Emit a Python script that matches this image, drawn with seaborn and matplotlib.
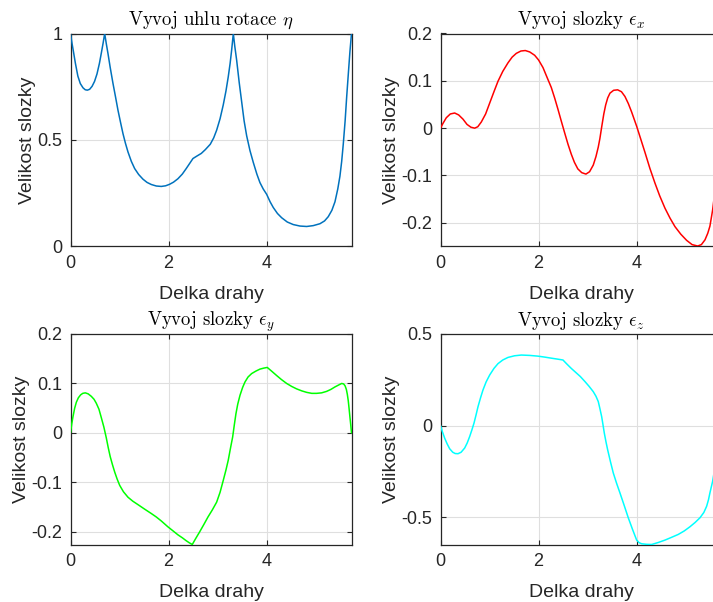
import numpy as np
import pandas as pd
import matplotlib
matplotlib.use("Agg")
import matplotlib.pyplot as plt
import seaborn as sns

# Path length samples and component values for each quantity
eta_s = [0, 0.03, 0.06, 0.10, 0.15, 0.20, 0.255, 0.30, 0.343, 0.39, 0.44, 0.49, 0.54, 0.59, 0.63,
         0.665, 0.697, 0.73, 0.765, 0.81, 0.866, 0.92, 0.968, 1.02, 1.07, 1.12, 1.172, 1.24,
         1.308, 1.39, 1.478, 1.56, 1.648, 1.75, 1.851, 1.94, 2.02, 2.10, 2.19, 2.28, 2.36, 2.43,
         2.497, 2.58, 2.667, 2.75, 2.85, 2.92, 2.98, 3.05, 3.115, 3.17, 3.217, 3.255, 3.286,
         3.32, 3.35, 3.388, 3.44, 3.49, 3.54, 3.592, 3.66, 3.727, 3.80, 3.863, 3.93, 4.0, 4.07,
         4.135, 4.22, 4.306, 4.42, 4.542, 4.68, 4.816, 4.95, 5.087, 5.18, 5.256, 5.33, 5.393,
         5.45, 5.494, 5.53, 5.562, 5.60, 5.631, 5.665, 5.698, 5.73]
eta = [1.0, 0.955, 0.915, 0.86, 0.80, 0.765, 0.745, 0.736, 0.734, 0.738, 0.752, 0.775, 0.81,
       0.86, 0.91, 0.955, 1.0, 0.952, 0.905, 0.84, 0.766, 0.70, 0.64, 0.583, 0.53, 0.485, 0.444,
       0.40, 0.366, 0.338, 0.316, 0.301, 0.291, 0.284, 0.282, 0.285, 0.292, 0.302, 0.318, 0.340,
       0.366, 0.39, 0.413, 0.425, 0.437, 0.455, 0.48, 0.51, 0.546, 0.60, 0.665, 0.73, 0.797,
       0.86, 0.922, 1.0, 0.94, 0.875, 0.77, 0.68, 0.59, 0.52, 0.45, 0.395, 0.34, 0.30, 0.27,
       0.245, 0.21, 0.183, 0.155, 0.135, 0.115, 0.103, 0.096, 0.094, 0.098, 0.107, 0.12, 0.14,
       0.17, 0.21, 0.27, 0.33, 0.40, 0.48, 0.59, 0.70, 0.81, 0.915, 1.0]

ex_s = [0, 0.05, 0.118, 0.2, 0.289, 0.37, 0.459, 0.54, 0.62, 0.697, 0.76, 0.832, 0.92, 1.003,
        1.09, 1.172, 1.27, 1.376, 1.46, 1.545, 1.64, 1.729, 1.82, 1.92, 2.0, 2.09, 2.17, 2.259,
        2.33, 2.395, 2.46, 2.532, 2.60, 2.667, 2.73, 2.80, 2.88, 2.966, 3.04, 3.115, 3.17,
        3.217, 3.25, 3.286, 3.33, 3.368, 3.41, 3.456, 3.53, 3.612, 3.69, 3.761, 3.83, 3.898,
        4.0, 4.08, 4.169, 4.27, 4.373, 4.47, 4.577, 4.68, 4.781, 4.90, 5.019, 5.13, 5.244,
        5.32, 5.393, 5.45, 5.494, 5.549, 5.60, 5.66, 5.73]
ex = [0, 0.010, 0.022, 0.030, 0.032, 0.028, 0.019, 0.008, 0.002, 0.0, 0.003, 0.013, 0.030,
      0.053, 0.077, 0.099, 0.120, 0.138, 0.150, 0.158, 0.163, 0.164, 0.161, 0.154, 0.144, 0.128,
      0.108, 0.086, 0.063, 0.040, 0.016, -0.010, -0.034, -0.055, -0.072, -0.086, -0.094, -0.097,
      -0.092, -0.078, -0.060, -0.040, -0.022, 0.002, 0.030, 0.049, 0.064, 0.074, 0.080, 0.081,
      0.077, 0.067, 0.052, 0.034, 0.004, -0.022, -0.051, -0.085, -0.116, -0.143, -0.169, -0.190,
      -0.208, -0.224, -0.237, -0.246, -0.249, -0.246, -0.236, -0.222, -0.207, -0.173, -0.13,
      -0.07, 0.0]

ey_s = [0, 0.025, 0.051, 0.085, 0.119, 0.16, 0.207, 0.25, 0.302, 0.36, 0.424, 0.48, 0.526, 0.58,
        0.628, 0.68, 0.73, 0.77, 0.81, 0.855, 0.901, 0.95, 1.003, 1.08, 1.172, 1.27, 1.376, 1.51,
        1.648, 1.75, 1.851, 1.988, 2.09, 2.19, 2.28, 2.36, 2.42, 2.483, 2.55, 2.634, 2.72, 2.803,
        2.89, 2.98, 3.05, 3.115, 3.17, 3.217, 3.26, 3.307, 3.34, 3.374, 3.41, 3.456, 3.51, 3.558,
        3.62, 3.694, 3.78, 3.863, 3.94, 4.012, 4.10, 4.204, 4.30, 4.408, 4.51, 4.612, 4.716,
        4.816, 4.92, 5.019, 5.12, 5.223, 5.31, 5.393, 5.47, 5.53, 5.57, 5.60, 5.625, 5.645,
        5.664, 5.68, 5.698, 5.715, 5.73]
ey = [0, 0.018, 0.033, 0.050, 0.062, 0.071, 0.077, 0.080, 0.081, 0.079, 0.074, 0.068, 0.060,
      0.048, 0.031, 0.012, -0.010, -0.030, -0.048, -0.064, -0.079, -0.093, -0.106, -0.119, -0.130,
      -0.138, -0.145, -0.154, -0.163, -0.170, -0.178, -0.190, -0.198, -0.206, -0.212, -0.218,
      -0.222, -0.2256, -0.214, -0.200, -0.185, -0.170, -0.156, -0.140, -0.120, -0.096, -0.075,
      -0.055, -0.032, -0.008, 0.016, 0.039, 0.058, 0.076, 0.092, 0.103, 0.113, 0.120, 0.125,
      0.129, 0.131, 0.1324, 0.125, 0.116, 0.108, 0.100, 0.094, 0.089, 0.085, 0.082, 0.080,
      0.080, 0.081, 0.084, 0.088, 0.093, 0.097, 0.100, 0.099, 0.095, 0.088, 0.078, 0.065, 0.050,
      0.032, 0.016, 0]

ez_s = [0, 0.04, 0.085, 0.135, 0.187, 0.25, 0.30, 0.357, 0.42, 0.493, 0.545, 0.595, 0.64, 0.683,
        0.725, 0.765, 0.815, 0.866, 0.93, 1.003, 1.09, 1.172, 1.27, 1.376, 1.51, 1.648, 1.82,
        1.988, 2.12, 2.259, 2.38, 2.497, 2.58, 2.667, 2.742, 2.85, 2.946, 3.03, 3.115, 3.17,
        3.217, 3.25, 3.286, 3.31, 3.34, 3.375, 3.408, 3.465, 3.523, 3.59, 3.659, 3.74, 3.829,
        3.915, 4.0, 4.05, 4.102, 4.2, 4.306, 4.44, 4.577, 4.71, 4.848, 4.97, 5.087, 5.19, 5.291,
        5.37, 5.427, 5.465, 5.494, 5.549, 5.62, 5.68, 5.73]
ez = [0, -0.035, -0.069, -0.100, -0.127, -0.146, -0.153, -0.154, -0.146, -0.123, -0.095, -0.060,
      -0.024, 0.013, 0.058, 0.103, 0.150, 0.194, 0.238, 0.276, 0.312, 0.338, 0.358, 0.372, 0.381,
      0.385, 0.383, 0.379, 0.374, 0.368, 0.363, 0.358, 0.335, 0.312, 0.294, 0.268, 0.240, 0.214,
      0.185, 0.160, 0.131, 0.093, 0.049, 0.010, -0.041, -0.090, -0.132, -0.197, -0.259, -0.315,
      -0.368, -0.432, -0.504, -0.567, -0.626, -0.640, -0.646, -0.649, -0.650, -0.639, -0.626,
      -0.611, -0.595, -0.576, -0.553, -0.530, -0.504, -0.475, -0.441, -0.405, -0.368, -0.305,
      -0.19, -0.09, 0.0]

titles = [r"Vyvoj uhlu rotace $\eta$", r"Vyvoj slozky $\epsilon_x$",
          r"Vyvoj slozky $\epsilon_y$", r"Vyvoj slozky $\epsilon_z$"]
x_ticks = [0, 2, 4]
x_tick_labels = ["0", "2", "4"]
y_ticks = [[0, 0.5, 1], [-0.2, -0.1, 0, 0.1, 0.2], [-0.2, -0.1, 0, 0.1, 0.2], [-0.5, 0, 0.5]]
y_tick_labels = [["0", "0.5", "1"], ["-0.2", "-0.1", "0", "0.1", "0.2"],
                 ["-0.2", "-0.1", "0", "0.1", "0.2"], ["-0.5", "0", "0.5"]]
y_limits = [(0, 1), (-0.25, 0.2), (-0.2256, 0.2), (-0.65, 0.5)]
x_max = 5.73
x_label = "Delka drahy"
y_label = "Velikost slozky"

sns.set_theme(style="white")
plt.rcParams["font.family"] = ["Liberation Sans", "DejaVu Sans"]
plt.rcParams["mathtext.fontset"] = "cm"
plt.rcParams["axes.unicode_minus"] = False

W, H = 713, 602
fig = plt.figure(figsize=(W / 100, H / 100), dpi=100)

def px_axes(left, top, right, bottom):
    return fig.add_axes([left / W, 1 - bottom / H, (right - left) / W, (bottom - top) / H])

axes = [
    px_axes(70.5, 33.5, 351.5, 246.5),
    px_axes(440.5, 33.5, 721.5, 246.5),
    px_axes(70.5, 334.0, 351.5, 544.5),
    px_axes(440.5, 334.0, 721.5, 544.5),
]

series = [(eta_s, eta, "#0072BD"), (ex_s, ex, "#FF0000"),
          (ey_s, ey, "#00FF00"), (ez_s, ez, "#00FFFF")]

dark = "#262626"
for i, (ax, (s, v, c)) in enumerate(zip(axes, series)):
    df = pd.DataFrame({"s": s, "v": v})
    sns.lineplot(data=df, x="s", y="v", ax=ax, color=c, linewidth=1.1,
                 estimator=None, sort=False, zorder=3)
    ax.set_xlim(0, x_max)
    ax.set_ylim(*y_limits[i])
    ax.set_xticks(x_ticks)
    ax.set_xticklabels(x_tick_labels)
    ax.set_yticks(y_ticks[i])
    ax.set_yticklabels(y_tick_labels[i])
    ax.grid(True, color="#DFDFDF", linewidth=0.8, zorder=0)
    ax.set_axisbelow(True)
    for sp in ax.spines.values():
        sp.set_visible(True)
        sp.set_color(dark)
        sp.set_linewidth(0.9)
    ax.tick_params(direction="in", length=3.5, width=0.8, color=dark,
                   labelcolor=dark, labelsize=13, top=True, right=True,
                   bottom=True, left=True, pad=6)
    ax.set_xlabel(x_label, fontsize=14, color=dark, labelpad=10)
    ax.set_ylabel(y_label, fontsize=14, color=dark, labelpad=1)
    ax.set_title(titles[i], fontsize=13.5, family="cmr10", color="black", pad=6)

fig.savefig("out.png", dpi=100)
